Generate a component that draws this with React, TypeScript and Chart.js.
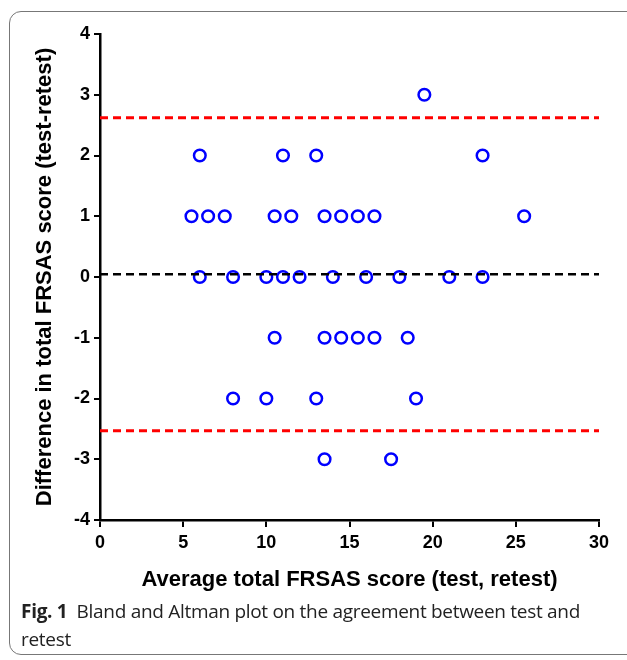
import React, { useEffect, useRef } from "react";
import { Chart, registerables } from "chart.js";

Chart.register(...registerables);

// Data
const averageScores: number[] = [
  19.5,
  6, 11, 13, 23,
  5.5, 6.5, 7.5, 10.5, 11.5, 13.5, 14.5, 15.5, 16.5, 25.5,
  6, 8, 10, 11, 12, 14, 16, 18, 21, 23,
  10.5, 13.5, 14.5, 15.5, 16.5, 18.5,
  8, 10, 13, 19,
  13.5, 17.5,
];
const differenceScores: number[] = [
  3,
  2, 2, 2, 2,
  1, 1, 1, 1, 1, 1, 1, 1, 1, 1,
  0, 0, 0, 0, 0, 0, 0, 0, 0, 0,
  -1, -1, -1, -1, -1, -1,
  -2, -2, -2, -2,
  -3, -3,
];
const meanDifference = 0.045;
const upperLimit = 2.62;
const lowerLimit = -2.53;
const xRange: number[] = [0, 30];
const yRange: number[] = [-4, 4];

const xTitle = "Average total FRSAS score (test, retest)";
const yTitle = "Difference in total FRSAS score (test-retest)";

const FONT = "'Liberation Sans', Arial, Helvetica, sans-serif";

export default function App() {
  const canvasRef = useRef<HTMLCanvasElement | null>(null);

  useEffect(() => {
    document.body.style.margin = "0";
    const canvas = canvasRef.current;
    if (!canvas) return;

    const points = averageScores.map((x, i) => ({ x, y: differenceScores[i] }));
    const hLine = (y: number) => xRange.map((x) => ({ x, y }));

    const chart = new Chart(canvas, {
      type: "scatter",
      data: {
        datasets: [
          {
            type: "line",
            data: hLine(upperLimit),
            borderColor: "#ff0000",
            borderWidth: 3,
            borderDash: [8, 5],
            pointRadius: 0,
            fill: false,
          },
          {
            type: "line",
            data: hLine(lowerLimit),
            borderColor: "#ff0000",
            borderWidth: 3,
            borderDash: [8, 5],
            pointRadius: 0,
            fill: false,
          },
          {
            type: "line",
            data: hLine(meanDifference),
            borderColor: "#000000",
            borderWidth: 2.5,
            borderDash: [8, 5],
            pointRadius: 0,
            fill: false,
          },
          {
            type: "scatter",
            data: points,
            borderColor: "#0000ff",
            backgroundColor: "rgba(255,255,255,0)",
            borderWidth: 2.5,
            pointRadius: 5.8,
          },
        ],
      },
      options: {
        animation: false,
        responsive: false,
        maintainAspectRatio: false,
        layout: { padding: { left: 28, right: 28, top: 34, bottom: 0 } },
        plugins: {
          legend: { display: false },
          tooltip: { enabled: false },
        },
        scales: {
          x: {
            type: "linear",
            min: xRange[0],
            max: xRange[1],
            afterFit: (scale: any) => {
              scale.height = 80;
            },
            ticks: {
              stepSize: 5,
              color: "#000",
              padding: 5,
              font: { family: FONT, size: 18, weight: "bold" },
            },
            grid: {
              drawOnChartArea: false,
              drawTicks: true,
              tickLength: 7,
              color: "#000",
              lineWidth: 2,
            },
            border: { display: true, color: "#000", width: 2.5 },
            title: {
              display: true,
              text: xTitle,
              color: "#000",
              font: { family: FONT, size: 22, weight: "bold" },
              padding: { top: 0, bottom: 7 },
            },
          },
          y: {
            type: "linear",
            min: yRange[0],
            max: yRange[1],
            afterFit: (scale: any) => {
              scale.width = 72;
            },
            ticks: {
              stepSize: 1,
              color: "#000",
              padding: 4,
              font: { family: FONT, size: 18, weight: "bold" },
            },
            grid: {
              drawOnChartArea: false,
              drawTicks: true,
              tickLength: 6,
              color: "#000",
              lineWidth: 2,
            },
            border: { display: true, color: "#000", width: 2.5 },
            title: {
              display: true,
              text: yTitle,
              color: "#000",
              font: { family: FONT, size: 22, weight: "bold" },
              padding: { top: 4, bottom: 0 },
            },
          },
        },
      },
    } as any);

    return () => chart.destroy();
  }, []);

  return (
    <div
      style={{
        position: "fixed",
        left: 0,
        top: 0,
        width: 627,
        height: 660,
        background: "#fff",
        overflow: "hidden",
      }}
    >
      <div
        style={{
          position: "absolute",
          left: 9,
          top: 11,
          width: 660,
          height: 644,
          border: "1.5px solid #777",
          borderRadius: 12,
          boxSizing: "border-box",
        }}
      />
      <canvas
        ref={canvasRef}
        width={627}
        height={600}
        style={{ position: "absolute", left: 0, top: 0, width: 627, height: 600 }}
      />
      <div
        style={{
          position: "absolute",
          left: 21,
          top: 597,
          width: 590,
          fontFamily: "'Open Sans', 'Noto Sans', sans-serif",
          fontSize: 19,
          lineHeight: "28px",
          color: "#222",
          letterSpacing: "-0.3px",
        }}
      >
        <span style={{ fontWeight: 700 }}>Fig. 1</span>
        {"\u2002Bland and Altman plot on the agreement between test and retest"}
      </div>
    </div>
  );
}
